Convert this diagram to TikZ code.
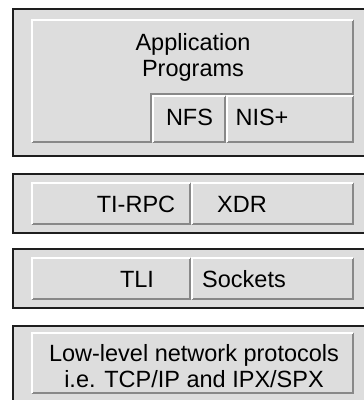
\documentclass[tikz,border=0pt]{standalone}
\usepackage{fontspec}
\setmainfont{Liberation Sans}
\definecolor{bggray}{RGB}{221,221,221}
\definecolor{shadowgray}{RGB}{136,136,136}
\definecolor{framedark}{RGB}{30,30,30}
\newcommand\bevbox[4]{%
  \fill[bggray] (#1,#2) rectangle (#3,#4);
  \draw[draw=shadowgray,line width=2] (#1+1,#4-1) -- (#3-1,#4-1) -- (#3-1,#2+1);
  \draw[draw=white,line width=2] (#1+1,#4-1) -- (#1+1,#2+1) -- (#3-1,#2+1);
}
\tikzset{
  outerbox/.style={fill=bggray,draw=framedark,line width=1.6},
  lbl/.style={font=\fontsize{23.5}{26}\selectfont,align=center,inner sep=0pt,text=black},
}
\begin{document}
\begin{tikzpicture}[x=1pt,y=-1pt]
\useasboundingbox (0,0) rectangle (364,400);
\clip (0,0) rectangle (364,400);
% outer frames
\draw[outerbox] (13,9) rectangle (380,156);
\draw[outerbox] (13,174) rectangle (380,233);
\draw[outerbox] (13,249) rectangle (380,308);
\draw[outerbox] (13,326) rectangle (380,420);
% application L-shape
\fill[bggray] (31,19) -- (354,19) -- (354,95) -- (152,95) -- (152,143) -- (31,143) -- cycle;
\draw[draw=shadowgray,line width=2] (32,142) -- (151,142) -- (151,94) -- (353,94) -- (353,20);
\draw[draw=white,line width=2] (32,142) -- (32,20) -- (353,20);
% inner boxes
\bevbox{152}{95}{226}{143}
\bevbox{226}{95}{354}{143}
\bevbox{31}{182}{191}{225}
\bevbox{191}{182}{354}{225}
\bevbox{31}{257}{191}{300}
\bevbox{191}{257}{354}{300}
\bevbox{31}{332}{354}{394}
% labels
\node[lbl] (app) at (193,57) {Application\\Programs};
\node[lbl,anchor=base] (nfs) at (189.5,125) {NFS};
\node[lbl,anchor=base] (nis) at (262,125) {NIS+};
\node[lbl,anchor=base] (tirpc) at (136,212) {TI-RPC};
\node[lbl,anchor=base] (xdr) at (242,212) {XDR};
\node[lbl,anchor=base] (tli) at (137,287) {TLI};
\node[lbl,anchor=base] (sock) at (244,287) {Sockets};
\node[lbl] (low) at (194,366) {Low-level network protocols\\i.e. TCP/IP and IPX/SPX};
\end{tikzpicture}
\end{document}
